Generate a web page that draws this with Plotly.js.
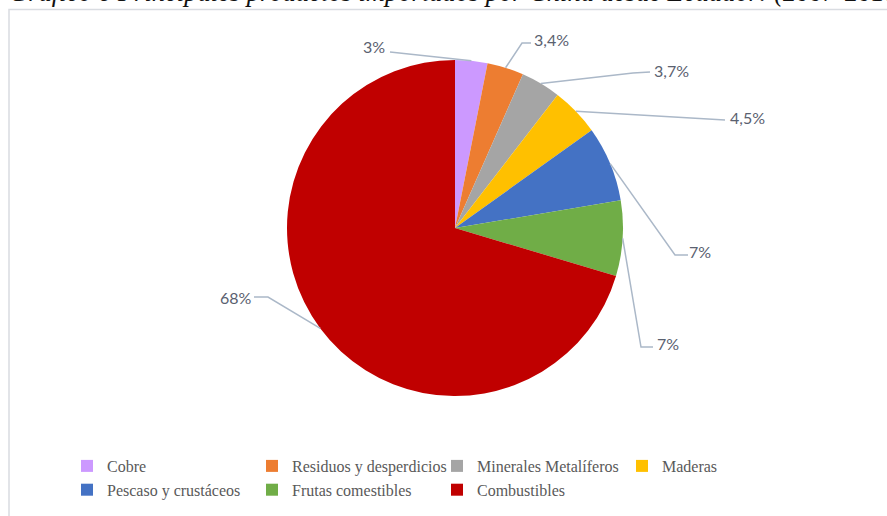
<!DOCTYPE html>
<html>
<head>
<meta charset="utf-8">
<script src="https://cdn.plot.ly/plotly-3.0.1.min.js"></script>
<style>
html,body{margin:0;padding:0;background:#fff;}
#chart{width:887px;height:516px;}
</style>
</head>
<body>
<div id="chart"></div>
<script>
// ---- data ----
var categories = ["Cobre", "Residuos y desperdicios", "Minerales Metalíferos", "Maderas",
                  "Pescaso y crustáceos", "Frutas comestibles", "Combustibles"];
var shares = [3, 3.4, 3.7, 4.5, 7, 7, 68];
var shareLabels = ["3%", "3,4%", "3,7%", "4,5%", "7%", "7%", "68%"];
var sliceColors = ["#CC99FF", "#ED7D31", "#A5A5A5", "#FFC000", "#4472C4", "#70AD47", "#C00000"];

// ---- layout helpers (pixel positions of the label texts and leader-line elbows) ----
var W = 887, H = 516;
var pieCx = 455, pieCy = 228, pieR = 168;
var labelText = [[374, 47], [551, 39], [671, 70], [747, 118], [700, 251], [668, 343], [236, 297]];
var lineStart = [[390, 52], [531, 43], [650, 72], [725, 120], [688, 255], [653, 347], [254, 297]];
var lineElbow = [[390, 52], [522, 43], [633, 73], [725, 120], [675, 255], [641, 347], [268, 297]];

function px(x) { return x / W; }
function py(y) { return 1 - y / H; }

var total = shares.reduce(function (a, b) { return a + b; }, 0);
var shapes = [];
var annotations = [];
var cum = 0;
for (var i = 0; i < shares.length; i++) {
  var mid = (cum + shares[i] / 2) / total * 2 * Math.PI;
  cum += shares[i];
  var ex = pieCx + pieR * Math.sin(mid);
  var ey = pieCy - pieR * Math.cos(mid);
  shapes.push({
    type: "path", xref: "paper", yref: "paper",
    path: "M " + px(lineStart[i][0]) + " " + py(lineStart[i][1]) +
          " L " + px(lineElbow[i][0]) + " " + py(lineElbow[i][1]) +
          " L " + px(ex) + " " + py(ey),
    line: { color: "#ABB8C8", width: 1.5 }
  });
  annotations.push({
    xref: "paper", yref: "paper", x: px(labelText[i][0]), y: py(labelText[i][1]),
    xanchor: "center", yanchor: "middle", showarrow: false,
    text: shareLabels[i],
    font: { family: "Lato, 'Open Sans', sans-serif", size: 16, color: "#5A6170" }
  });
}

// outer frame
shapes.push({
  type: "rect", xref: "paper", yref: "paper",
  x0: px(9), x1: px(900), y0: py(530), y1: py(9.5),
  line: { color: "#D9DCE1", width: 1.5 }, fillcolor: "rgba(0,0,0,0)"
});

// cut-off caption at the top
annotations.push({
  xref: "paper", yref: "paper", x: px(7), y: 1, xanchor: "left", yanchor: "middle",
  yshift: 8, showarrow: false,
  text: "<i>Gráfico 6 Principales productos importados por China desde Ecuador: (2007-2018)</i>",
  font: { family: "'Liberation Serif', serif", size: 26.5, color: "#111111" }
});

var trace = {
  type: "pie",
  labels: categories,
  values: shares,
  sort: false,
  direction: "clockwise",
  rotation: 0,
  textinfo: "none",
  hoverinfo: "label+percent",
  marker: { colors: sliceColors, line: { width: 0 } },
  domain: { x: [px(pieCx - pieR), px(pieCx + pieR)], y: [py(pieCy + pieR), py(pieCy - pieR)] }
};

var layout = {
  width: W, height: H,
  margin: { l: 0, r: 0, t: 0, b: 0 },
  paper_bgcolor: "#FFFFFF",
  showlegend: true,
  legend: {
    orientation: "h",
    x: px(67), y: py(449), xanchor: "left", yanchor: "top",
    entrywidth: 140,
    font: { family: "'Liberation Serif', serif", size: 16, color: "#595959" },
    bgcolor: "rgba(0,0,0,0)"
  },
  shapes: shapes,
  annotations: annotations
};

Plotly.newPlot("chart", [trace], layout, { displayModeBar: false, staticPlot: true });
</script>
</body>
</html>
